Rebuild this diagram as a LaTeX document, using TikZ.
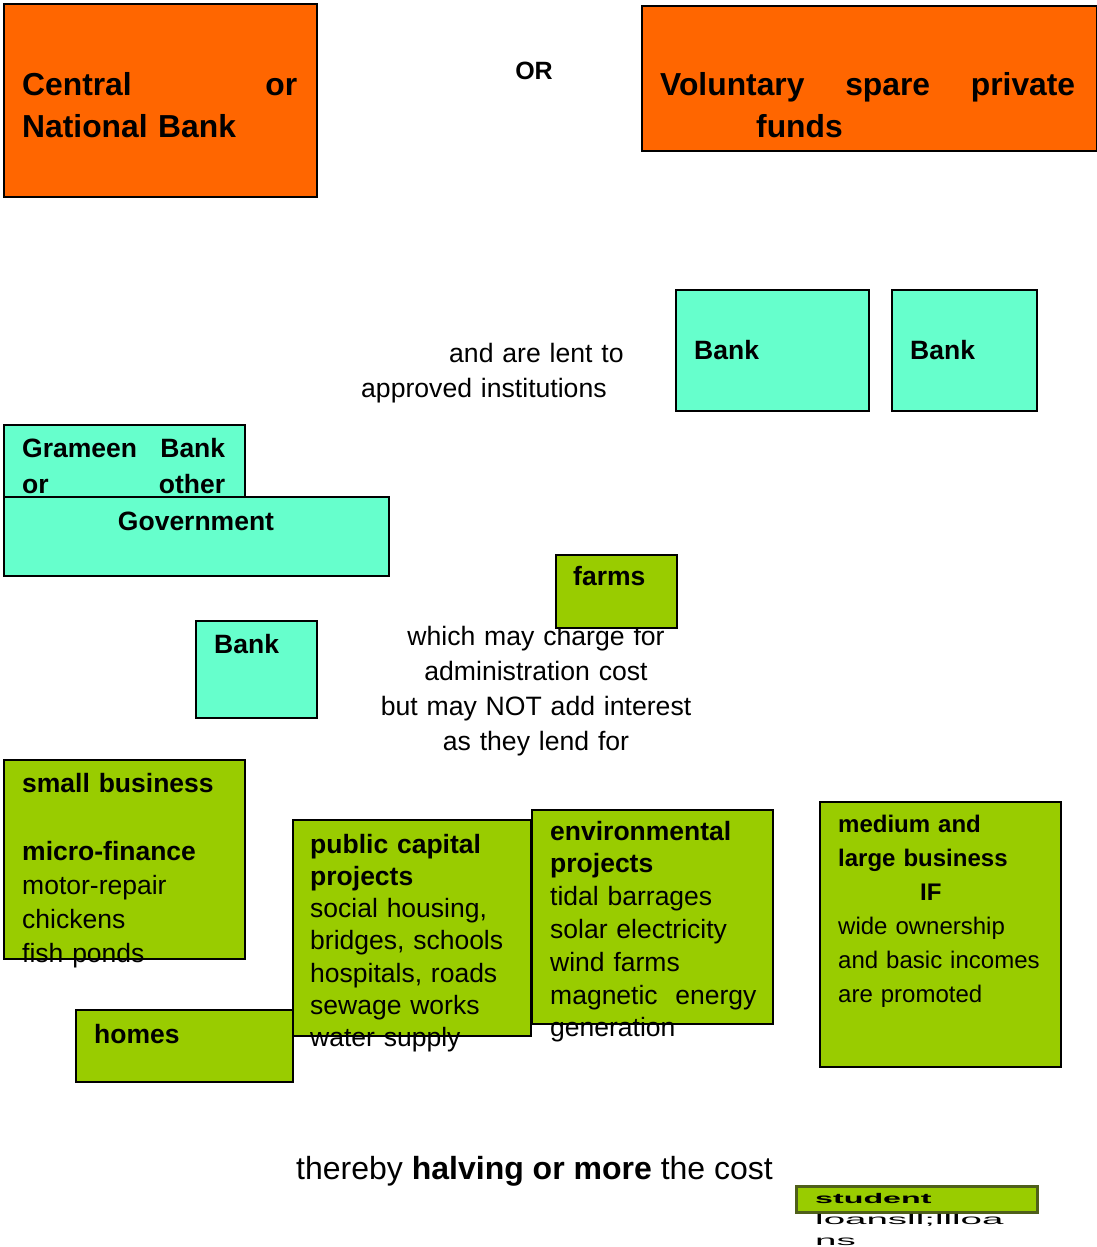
\documentclass[tikz,border=0pt]{standalone}
\usepackage{fontspec}
\setmainfont{Liberation Sans}
\newfontfamily\widefont[FakeStretch=2.3]{Liberation Sans}
\newfontfamily\widerfont[FakeStretch=2.75]{Liberation Sans}
\usepackage{xcolor}
\definecolor{boxorange}{HTML}{FF6600}
\definecolor{boxteal}{HTML}{66FFCC}
\definecolor{boxgreen}{HTML}{99CC00}
\definecolor{boxolive}{HTML}{4F5F1A}
\begin{document}
\begin{tikzpicture}[x=1pt,y=-1pt,inner sep=0pt,
  box/.style={draw=black,line width=2pt,anchor=north west,minimum width=#1},
  orangebox/.style={box=#1,fill=boxorange},
  tealbox/.style={box=#1,fill=boxteal},
  greenbox/.style={box=#1,fill=boxgreen},
  bigtxt/.style={anchor=base west,align=left,font=\bfseries\fontsize{31.8}{43}\selectfont},
  boxtxt/.style={anchor=base west,align=left,text width=235,font=\fontsize{26.5}{#1}\selectfont},
  boldtxt/.style={anchor=base west,font=\bfseries\fontsize{26.5}{33}\selectfont},
  plaintxt/.style={font=\fontsize{26.6}{35}\selectfont}]
\useasboundingbox (0,0) rectangle (1097,1247);
\node[orangebox=313,minimum height=193] (cb) at (3,3) {};
\node[bigtxt,text width=275] (cbt) at (22,95) {Central\hfill or\\National Bank};
\node[anchor=base,font=\bfseries\fontsize{25}{30}\selectfont] (or) at (534,80) {OR};
\node[orangebox=455,minimum height=145] (vol) at (641,5) {};
\node[bigtxt,text width=415] (volt) at (660,95) {Voluntary\hfill spare\hfill private\\\hspace*{96pt}funds};
\node[plaintxt,align=left,anchor=base west,text width=300] (lent) at (361,362) {\hspace*{88pt}and are lent to\\approved institutions};
\node[tealbox=193,minimum height=121] (b1) at (675,289) {};
\node[boldtxt] (b1t) at (694,359) {Bank};
\node[tealbox=145,minimum height=121] (b2) at (891,289) {};
\node[boldtxt] (b2t) at (910,359) {Bank};
\node[tealbox=241,minimum height=73] (gb) at (3,424) {};
\node[boxtxt=36,text width=203,font=\bfseries\fontsize{26.5}{36}\selectfont] (gbt) at (22,457) {Grameen\hfill Bank\\or\hfill other};
\node[tealbox=385,minimum height=79] (gov) at (3,496) {};
\node[boldtxt,anchor=base] (govt) at (196,530) {Government};
\node[tealbox=121,minimum height=97] (b3) at (195,620) {};
\node[boldtxt] (b3t) at (214,653) {Bank};
\node[plaintxt,align=center,anchor=base,text width=340] (admin) at (536,645) {which may charge for\\administration cost\\but may NOT add interest\\as they lend for};
\node[greenbox=121,minimum height=73] (farm) at (555,554) {};
\node[boldtxt] (farmt) at (573,585) {farms};
\node[greenbox=241,minimum height=199] (sb) at (3,759) {};
\node[boxtxt=34] (sbt) at (22,792) {\textbf{small business}\\[34pt]\textbf{micro-finance}\\motor-repair\\chickens\\fish ponds};
\node[greenbox=217,minimum height=72] (home) at (75,1009) {};
\node[boldtxt] (homet) at (94,1043) {homes};
\node[greenbox=238,minimum height=216] (pub) at (292,819) {};
\node[boxtxt=32.3] (pubt) at (310,853) {\textbf{public capital}\\\textbf{projects}\\social housing,\\bridges, schools\\hospitals, roads\\sewage works\\water supply};
\node[greenbox=241,minimum height=214] (env) at (531,809) {};
\node[boxtxt=32.8] (envt) at (550,840) {\textbf{environmental}\\\textbf{projects}\\tidal barrages\\solar electricity\\wind farms\\magnetic\ \ energy\\generation};
\node[greenbox=241,minimum height=265] (med) at (819,801) {};
\node[boxtxt=34,font=\fontsize{24}{34}\selectfont] (medt) at (838,832) {\textbf{medium and}\\\textbf{large business}\\\hspace*{82pt}\textbf{IF}\\wide ownership\\and basic incomes\\are promoted};
\node[anchor=base west,font=\fontsize{32}{38}\selectfont] (cost) at (296,1179) {thereby \textbf{halving or more} the cost};
\node[box=241,minimum height=26,fill=boxgreen,draw=boxolive,line width=3pt] (stud) at (795,1185) {};
\node[anchor=base west,font=\widefont\bfseries\fontsize{14}{16}\selectfont] (studt) at (815,1203) {student};
\node[anchor=base west,align=left,text width=240,font=\widerfont\fontsize{14}{21}\selectfont] (loan) at (815,1224) {loansll;llloa\\ns};
\end{tikzpicture}
\end{document}
